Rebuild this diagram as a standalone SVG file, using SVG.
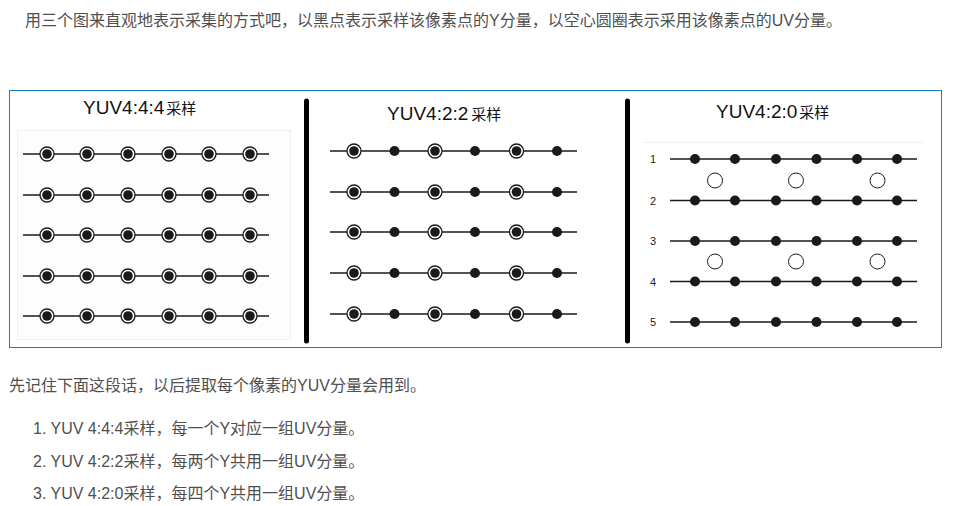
<svg xmlns="http://www.w3.org/2000/svg" xmlns:xlink="http://www.w3.org/1999/xlink" width="976" height="506" viewBox="0 0 976 506">
<style>
.txt{font-family:"Liberation Sans","Noto Sans CJK SC",sans-serif;font-size:16px;fill:#4f4f4f}
.ttl{font-family:"Liberation Sans","Noto Sans CJK SC",sans-serif;font-size:19px;fill:#111}
.ttlc{font-family:"Noto Sans CJK SC",sans-serif;font-size:15px;fill:#111}
.lbl{font-family:"Liberation Sans",sans-serif;font-size:11px;fill:#222;text-anchor:middle}
.ln{stroke:#1a1a1a;stroke-width:1.3;fill:none}
.bar{stroke:#000;stroke-width:5;stroke-linecap:round}
</style>
<defs>
<g id="ring"><circle r="7" fill="#fff" stroke="#1a1a1a" stroke-width="1.3"/><circle r="4.8" fill="#1a1a1a"/></g>
<circle id="dot" r="5" fill="#1a1a1a"/>
<circle id="open" r="7.5" fill="#fff" stroke="#1a1a1a" stroke-width="1"/>
</defs>
<rect width="976" height="506" fill="#fff"/>
<g id="intro"><text class="txt" x="25" y="26">用三个图来直观地表示采集的方式吧，以黑点表示采样该像素点的Y分量，以空心圆圈表示采用该像素点的UV分量。</text></g>
<g id="frame"><rect x="9.5" y="90.5" width="932" height="257" fill="#fff" stroke="#1a7dc4" stroke-width="1"/></g>
<g id="dividers">
<line class="bar" x1="306.5" y1="101" x2="306.5" y2="341"/>
<line class="bar" x1="627.5" y1="101" x2="627.5" y2="341"/>
</g>
<g id="panel444">
<rect x="17.5" y="130.5" width="273" height="209" fill="#fdfdfd" stroke="#f0f0f0"/>
<text x="83" y="114"><tspan class="ttl">YUV4:4:4</tspan><tspan class="ttlc" dx="2">采样</tspan></text>
<g class="ln"><line x1="23" y1="154" x2="269" y2="154"/><line x1="23" y1="195" x2="269" y2="195"/><line x1="23" y1="235" x2="269" y2="235"/><line x1="23" y1="276" x2="269" y2="276"/><line x1="23" y1="316" x2="269" y2="316"/></g>
<use xlink:href="#ring" x="47" y="154"/><use xlink:href="#ring" x="87" y="154"/><use xlink:href="#ring" x="128" y="154"/><use xlink:href="#ring" x="169" y="154"/><use xlink:href="#ring" x="209" y="154"/><use xlink:href="#ring" x="250" y="154"/>
<use xlink:href="#ring" x="47" y="195"/><use xlink:href="#ring" x="87" y="195"/><use xlink:href="#ring" x="128" y="195"/><use xlink:href="#ring" x="169" y="195"/><use xlink:href="#ring" x="209" y="195"/><use xlink:href="#ring" x="250" y="195"/>
<use xlink:href="#ring" x="47" y="235"/><use xlink:href="#ring" x="87" y="235"/><use xlink:href="#ring" x="128" y="235"/><use xlink:href="#ring" x="169" y="235"/><use xlink:href="#ring" x="209" y="235"/><use xlink:href="#ring" x="250" y="235"/>
<use xlink:href="#ring" x="47" y="276"/><use xlink:href="#ring" x="87" y="276"/><use xlink:href="#ring" x="128" y="276"/><use xlink:href="#ring" x="169" y="276"/><use xlink:href="#ring" x="209" y="276"/><use xlink:href="#ring" x="250" y="276"/>
<use xlink:href="#ring" x="47" y="316"/><use xlink:href="#ring" x="87" y="316"/><use xlink:href="#ring" x="128" y="316"/><use xlink:href="#ring" x="169" y="316"/><use xlink:href="#ring" x="209" y="316"/><use xlink:href="#ring" x="250" y="316"/>
</g>
<g id="panel422">
<text x="387" y="120"><tspan class="ttl">YUV4:2:2</tspan><tspan class="ttlc" dx="3">采样</tspan></text>
<g class="ln"><line x1="330" y1="151" x2="577" y2="151"/><line x1="330" y1="192" x2="577" y2="192"/><line x1="330" y1="232" x2="577" y2="232"/><line x1="330" y1="273" x2="577" y2="273"/><line x1="330" y1="314" x2="577" y2="314"/></g>
<use xlink:href="#ring" x="354" y="151"/><use xlink:href="#dot" x="394.5" y="151"/><use xlink:href="#ring" x="435" y="151"/><use xlink:href="#dot" x="475" y="151"/><use xlink:href="#ring" x="516.5" y="151"/><use xlink:href="#dot" x="557" y="151"/>
<use xlink:href="#ring" x="354" y="192"/><use xlink:href="#dot" x="394.5" y="192"/><use xlink:href="#ring" x="435" y="192"/><use xlink:href="#dot" x="475" y="192"/><use xlink:href="#ring" x="516.5" y="192"/><use xlink:href="#dot" x="557" y="192"/>
<use xlink:href="#ring" x="354" y="232"/><use xlink:href="#dot" x="394.5" y="232"/><use xlink:href="#ring" x="435" y="232"/><use xlink:href="#dot" x="475" y="232"/><use xlink:href="#ring" x="516.5" y="232"/><use xlink:href="#dot" x="557" y="232"/>
<use xlink:href="#ring" x="354" y="273"/><use xlink:href="#dot" x="394.5" y="273"/><use xlink:href="#ring" x="435" y="273"/><use xlink:href="#dot" x="475" y="273"/><use xlink:href="#ring" x="516.5" y="273"/><use xlink:href="#dot" x="557" y="273"/>
<use xlink:href="#ring" x="354" y="314"/><use xlink:href="#dot" x="394.5" y="314"/><use xlink:href="#ring" x="435" y="314"/><use xlink:href="#dot" x="475" y="314"/><use xlink:href="#ring" x="516.5" y="314"/><use xlink:href="#dot" x="557" y="314"/>
</g>
<g id="panel420">
<text x="716" y="118"><tspan class="ttl">YUV4:2:0</tspan><tspan class="ttlc" dx="2">采样</tspan></text>
<line x1="643" y1="142.5" x2="923" y2="142.5" stroke="#f0f0f0" stroke-width="1"/>
<text class="lbl" x="653" y="163">1</text><text class="lbl" x="653" y="204.5">2</text><text class="lbl" x="653" y="245">3</text><text class="lbl" x="653" y="285.5">4</text><text class="lbl" x="653" y="326">5</text>
<g class="ln"><line x1="670" y1="159" x2="917" y2="159"/><line x1="670" y1="200.5" x2="917" y2="200.5"/><line x1="670" y1="241" x2="917" y2="241"/><line x1="670" y1="281.5" x2="917" y2="281.5"/><line x1="670" y1="322" x2="917" y2="322"/></g>
<use xlink:href="#dot" x="695" y="159"/><use xlink:href="#dot" x="735" y="159"/><use xlink:href="#dot" x="776" y="159"/><use xlink:href="#dot" x="816.5" y="159"/><use xlink:href="#dot" x="857" y="159"/><use xlink:href="#dot" x="897" y="159"/>
<use xlink:href="#dot" x="695" y="200.5"/><use xlink:href="#dot" x="735" y="200.5"/><use xlink:href="#dot" x="776" y="200.5"/><use xlink:href="#dot" x="816.5" y="200.5"/><use xlink:href="#dot" x="857" y="200.5"/><use xlink:href="#dot" x="897" y="200.5"/>
<use xlink:href="#dot" x="695" y="241"/><use xlink:href="#dot" x="735" y="241"/><use xlink:href="#dot" x="776" y="241"/><use xlink:href="#dot" x="816.5" y="241"/><use xlink:href="#dot" x="857" y="241"/><use xlink:href="#dot" x="897" y="241"/>
<use xlink:href="#dot" x="695" y="281.5"/><use xlink:href="#dot" x="735" y="281.5"/><use xlink:href="#dot" x="776" y="281.5"/><use xlink:href="#dot" x="816.5" y="281.5"/><use xlink:href="#dot" x="857" y="281.5"/><use xlink:href="#dot" x="897" y="281.5"/>
<use xlink:href="#dot" x="695" y="322"/><use xlink:href="#dot" x="735" y="322"/><use xlink:href="#dot" x="776" y="322"/><use xlink:href="#dot" x="816.5" y="322"/><use xlink:href="#dot" x="857" y="322"/><use xlink:href="#dot" x="897" y="322"/>
<use xlink:href="#open" x="715" y="180.5"/><use xlink:href="#open" x="796" y="180.5"/><use xlink:href="#open" x="877.5" y="180.5"/>
<use xlink:href="#open" x="715" y="261.5"/><use xlink:href="#open" x="796" y="261.5"/><use xlink:href="#open" x="877.5" y="261.5"/>
</g>
<g id="notes">
<text class="txt" x="9" y="391">先记住下面这段话，以后提取每个像素的YUV分量会用到。</text>
<text class="txt" x="33" y="434">1. YUV 4:4:4采样，每一个Y对应一组UV分量。</text>
<text class="txt" x="33" y="467">2. YUV 4:2:2采样，每两个Y共用一组UV分量。</text>
<text class="txt" x="33" y="499">3. YUV 4:2:0采样，每四个Y共用一组UV分量。</text>
</g>
</svg>
